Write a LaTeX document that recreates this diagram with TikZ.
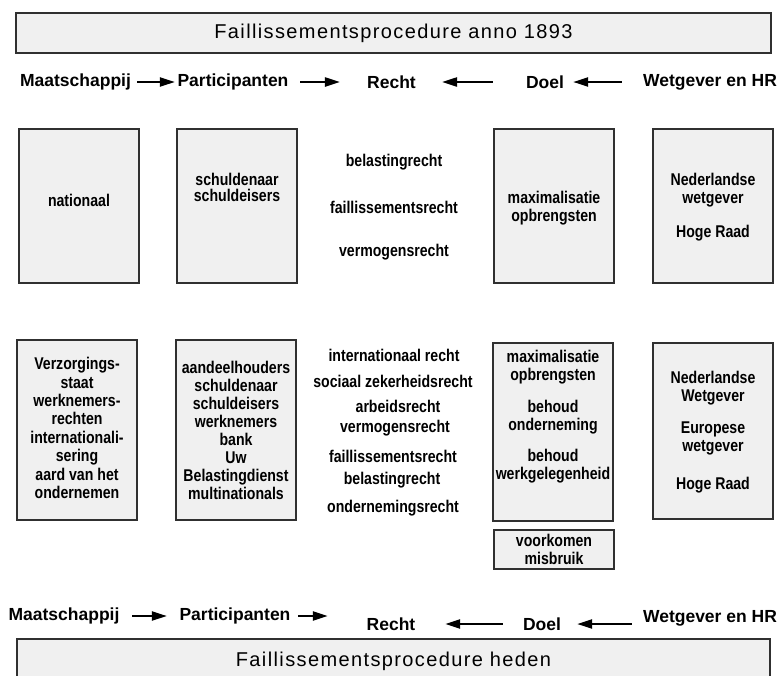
\documentclass[tikz,border=0pt]{standalone}
\usepackage{fontspec}
\setmainfont{Liberation Sans}
\newfontfamily\boxfamily[FakeStretch=0.83]{Liberation Sans}
\newfontfamily\titlefamily[LetterSpace=6.9]{Liberation Sans}
\usetikzlibrary{arrows.meta}
\definecolor{boxfill}{HTML}{F0F0F0}
\definecolor{boxline}{HTML}{303030}
\tikzset{
  panel/.style={draw=boxline, fill=boxfill, line width=1.3pt, inner sep=0pt},
  lbl/.style={font=\bfseries\fontsize{17.5}{20}\selectfont, inner sep=0pt},
  bt/.style={font=\boxfamily\bfseries\fontsize{17}{18}\selectfont, align=center, inner sep=0pt},
  btt/.style={font=\boxfamily\bfseries\fontsize{17}{15.5}\selectfont, align=center, inner sep=0pt},
  btl/.style={font=\boxfamily\bfseries\fontsize{17}{18.4}\selectfont, align=center, inner sep=0pt},
  ttl/.style={font=\titlefamily\fontsize{20}{22}\selectfont},
  arr/.style={line width=2.2pt, -{Triangle[length=15pt,width=9pt]}},
}
\begin{document}
\begin{tikzpicture}[x=1pt,y=-1pt]
\useasboundingbox (0,0) rectangle (784,675);
\clip (0,0) rectangle (784,675);

% titles
\node[panel, ttl, minimum width=755pt, minimum height=40pt] (toptitle) at (393.5,33) {Faillissementsprocedure anno 1893};
\node[panel, ttl, minimum width=753pt, minimum height=44pt] (bottitle) at (393.5,661) {Faillissementsprocedure heden};

% top row
\node[lbl] (m1) at (75.5,82) {Maatschappij};
\node[lbl] (p1) at (233,82) {Participanten};
\node[lbl] (r1) at (391.5,82) {Recht};
\node[lbl] (d1) at (545,82) {Doel};
\node[lbl] (w1) at (710,82) {Wetgever en HR};
\draw[arr, shorten <=6pt, shorten >=2.5pt] (m1.east) -- (p1.west);
\draw[arr, shorten <=11.5pt, shorten >=27pt] (p1.east) -- (r1.west);
\draw[arr, shorten <=33pt, shorten >=26pt] (d1.west) -- (r1.east);
\draw[arr, shorten <=21pt, shorten >=9pt] (w1.west) -- (d1.east);

% bottom row
\node[lbl] (m2) at (64,616) {Maatschappij};
\node[lbl] (p2) at (235,616) {Participanten};
\node[lbl] (r2) at (391,624) {Recht};
\node[lbl] (d2) at (542,624) {Doel};
\node[lbl] (w2) at (710,618) {Wetgever en HR};
\draw[arr, shorten <=12.5pt, shorten >=12.5pt] (m2.east) -- (p2.west);
\draw[arr, shorten <=7.5pt, shorten >=38.7pt] (p2.east) -- (p2.east -| r2.west);
\draw[arr, shorten <=20pt, shorten >=29.7pt] (d2.west) -- (r2.east);
\draw[arr, shorten <=11pt, shorten >=16pt] (d2.east -| w2.west) -- (d2.east);

% upper boxes
\node[panel, minimum width=120pt, minimum height=154pt] (b11) at (79,206) {};
\node[panel, minimum width=120pt, minimum height=154pt] (b12) at (237,206) {};
\node[panel, minimum width=120pt, minimum height=154pt] (b14) at (554,206) {};
\node[panel, minimum width=120pt, minimum height=154pt] (b15) at (713,206) {};
\node[bt] (t11) at (79,200) {nationaal};
\node[btt] (t12) at (237,187.5) {schuldenaar\\schuldeisers};
\node[bt] (u1) at (394,162) {belastingrecht};
\node[bt] (u2) at (394,207) {faillissementsrecht};
\node[bt] (u3) at (394,252) {vermogensrecht};
\node[bt] (t14) at (554,208) {maximalisatie\\opbrengsten};
\node[bt] (t15a) at (713,190.5) {Nederlandse\\wetgever};
\node[bt] (t15b) at (713,233) {Hoge Raad};

% lower boxes
\node[panel, minimum width=120pt, minimum height=180pt] (b21) at (77,430) {};
\node[panel, minimum width=120pt, minimum height=180pt] (b22) at (236,430) {};
\node[panel, minimum width=120pt, minimum height=178pt] (b24) at (553,432) {};
\node[panel, minimum width=120pt, minimum height=176pt] (b25) at (713,431) {};
\node[panel, minimum width=120pt, minimum height=39pt] (b26) at (554,549.5) {};
\node[btl] (t21) at (77,428) {Verzorgings-\\staat\\werknemers-\\rechten\\internationali-\\sering\\aard van het\\ondernemen};
\node[bt] (t22) at (236,430) {aandeelhouders\\schuldenaar\\schuldeisers\\werknemers\\bank\\Uw\\Belastingdienst\\multinationals};
\node[bt] (l1) at (394,355) {internationaal recht};
\node[bt] (l2) at (393,381) {sociaal zekerheidsrecht};
\node[bt] (l3) at (398,406) {arbeidsrecht};
\node[bt] (l4) at (395,428) {vermogensrecht};
\node[bt] (l5) at (393,456) {faillissementsrecht};
\node[bt] (l6) at (392,480) {belastingrecht};
\node[bt] (l7) at (393,508) {ondernemingsrecht};
\node[bt] (t24a) at (553,367) {maximalisatie\\opbrengsten};
\node[bt] (t24b) at (553,417.5) {behoud\\onderneming};
\node[bt] (t24c) at (553,466) {behoud\\werkgelegenheid};
\node[bt] (t26) at (554,549) {voorkomen\\misbruik};
\node[bt] (t25a) at (713,388) {Nederlandse\\Wetgever};
\node[bt] (t25b) at (713,438.5) {Europese\\wetgever};
\node[bt] (t25c) at (713,485) {Hoge Raad};
\end{tikzpicture}
\end{document}
